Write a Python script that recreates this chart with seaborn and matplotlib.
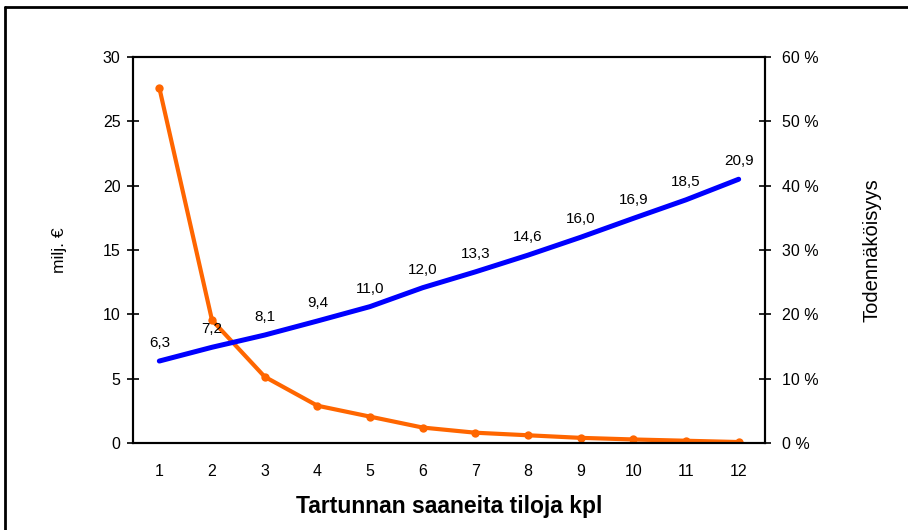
import matplotlib
matplotlib.use("Agg")
import matplotlib.pyplot as plt
import seaborn as sns
import pandas as pd
from matplotlib.lines import Line2D
from matplotlib.ticker import FixedLocator, NullFormatter, FuncFormatter

farms = [1, 2, 3, 4, 5, 6, 7, 8, 9, 10, 11, 12]
cost_labels = ["6,3", "7,2", "8,1", "9,4", "11,0", "12,0", "13,3", "14,6", "16,0", "16,9", "18,5", "20,9"]
cost_line_meur = [6.37, 7.44, 8.39, 9.48, 10.6, 12.07, 13.3, 14.6, 15.99, 17.46, 18.9, 20.5]
probability_pct = [55.2, 19.1, 10.3, 5.8, 4.1, 2.4, 1.6, 1.2, 0.8, 0.55, 0.35, 0.15]
y_ticks_left = [0, 5, 10, 15, 20, 25, 30]
y_ticks_right = [0, 10, 20, 30, 40, 50, 60]

df = pd.DataFrame({"farms": farms, "cost": cost_line_meur, "prob": probability_pct})

sns.set_theme(style="white")
plt.rcParams["font.family"] = ["Liberation Sans", "DejaVu Sans"]

fig = plt.figure(figsize=(9.08, 5.30), dpi=100)
ax = fig.add_axes([133/908, 1-443/530, (765-133)/908, (443-57)/530])
ax2 = ax.twinx()

sns.lineplot(data=df, x="farms", y="prob", ax=ax2, color="#FF6600", lw=3,
             marker="o", markersize=6, markeredgewidth=0)
sns.lineplot(data=df, x="farms", y="cost", ax=ax, color="#0000FF", lw=3.6)
ax.set_zorder(ax2.get_zorder() + 1)
ax.patch.set_visible(False)

for x, v, lab in zip(farms, cost_line_meur, cost_labels):
    ax.annotate(lab, (x, v), xytext=(0, 8),
                textcoords="offset points", ha="center", va="bottom",
                fontsize=11, color="black")

ax.set_xlim(0.5, 12.5)
ax.set_ylim(0, 30)
ax2.set_ylim(0, 60)
ax.set_yticks(y_ticks_left)
ax2.set_yticks(y_ticks_right)
ax2.yaxis.set_major_formatter(FuncFormatter(lambda v, p: f"{int(v)} %"))

ax.xaxis.set_major_locator(FixedLocator([i + 0.5 for i in range(0, 13)]))
ax.xaxis.set_major_formatter(NullFormatter())
ax.xaxis.set_minor_locator(FixedLocator(farms))
ax.xaxis.set_minor_formatter(FuncFormatter(lambda v, p: f"{int(round(v))}"))
ax.tick_params(axis="x", which="major", direction="inout", length=9, width=1.2, color="black")
ax.tick_params(axis="x", which="minor", length=0, pad=15, labelsize=11.5, labelcolor="black")
ax.tick_params(axis="y", direction="inout", length=9, width=1.2, color="black",
               labelsize=11.5, labelcolor="black", pad=4.5, left=True)
ax2.tick_params(axis="y", direction="inout", length=9, width=1.2, color="black",
                labelsize=11.5, labelcolor="black", pad=7.5, right=True)

for a in (ax, ax2):
    for s in a.spines.values():
        s.set_color("black")
        s.set_linewidth(1.5)
        s.set_visible(True)

ax.set_xlabel("Tartunnan saaneita tiloja kpl", fontsize=16.5, fontweight="bold",
              color="black", labelpad=12)
ax.set_ylabel("milj. €", fontsize=12.5, color="black", labelpad=26)
ax2.set_ylabel("Todennäköisyys", fontsize=14.5, color="black", labelpad=32)

fig.add_artist(Line2D([5/908, 5/908], [0, 1-7/530], color="black", lw=2,
                      transform=fig.transFigure))
fig.add_artist(Line2D([5/908, 1], [1-7/530, 1-7/530], color="black", lw=2,
                      transform=fig.transFigure))

fig.savefig("out.png", dpi=100, facecolor="white")
